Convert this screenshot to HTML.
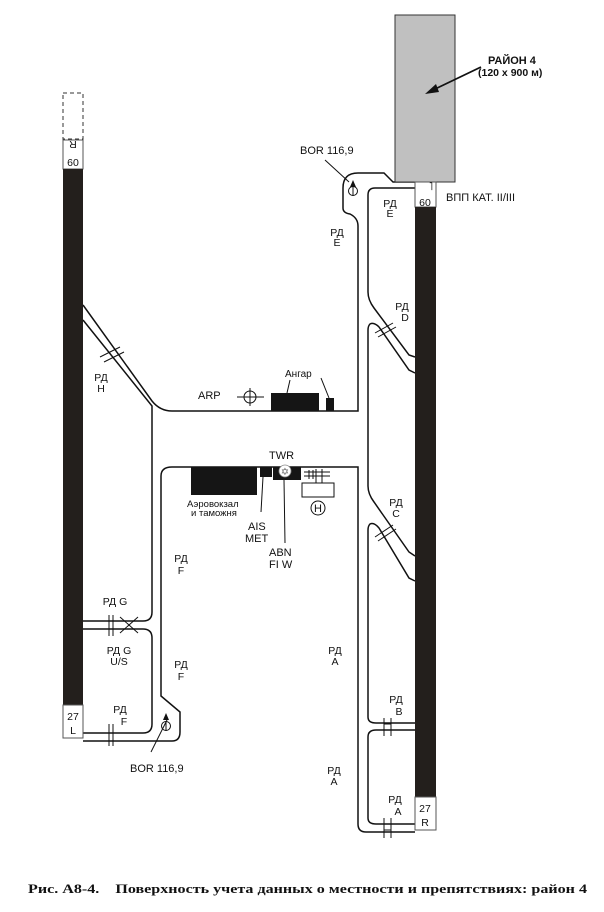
<!DOCTYPE html>
<html><head><meta charset="utf-8"><style>
html,body{margin:0;padding:0;background:#fff;}
svg{display:block;}
text{font-family:"Liberation Sans",sans-serif;fill:#111;}
</style></head><body>
<svg width="604" height="912" viewBox="0 0 604 912" xmlns="http://www.w3.org/2000/svg">
<g fill="none" stroke="#111" stroke-width="1.5">
<path d="M415,182 H393 L384,173 H358 Q343,173 343,188 V208 Q343,213 350,214 Q358,218 358,226 V411 H172 Q160,411 152,401 L83,305"/>
<path d="M83,320 L152,406 V612 Q152,621 143,621 H83"/>
<path d="M83,629 H143 Q152,629 152,638 V724 Q152,733 143,733 H83"/>
<path d="M83,741 H172 Q180,741 180,732 V712 L161,696 V476 Q161,467 172,467 H358 V824 Q358,832 366,832 H415"/>
<path d="M415,188 H375 Q368,188 368,195 V292 Q368,300 374,308 L409,355 L415,357"/>
<path d="M415,373 L409,370 L379,327 Q374,322 370,324 Q368,326 368,330 V486 Q368,494 374,502 L409,552 L415,556"/>
<path d="M415,581 L409,578 L379,528 Q374,522 370,524 Q368,526 368,530 V717 Q368,723 376,723 H415"/>
<path d="M415,730 H376 Q368,730 368,737 V818 Q368,824 376,824 H415"/>
</g>
<rect x="395" y="15" width="60" height="167" fill="#c0c0c0" stroke="#333" stroke-width="1"/>
<rect x="415" y="182" width="21" height="25" fill="#fff" stroke="#555" stroke-width="1"/>
<rect x="415" y="207" width="21" height="590" fill="#231f1c"/>
<rect x="415" y="797" width="21" height="33" fill="#fff" stroke="#555" stroke-width="1"/>
<rect x="63" y="93" width="20" height="46" fill="none" stroke="#333" stroke-width="1" stroke-dasharray="4,3"/>
<rect x="63" y="140" width="20" height="29" fill="#fff" stroke="#555" stroke-width="1"/>
<rect x="63" y="169" width="20" height="536" fill="#231f1c"/>
<rect x="63" y="705" width="20" height="33" fill="#fff" stroke="#555" stroke-width="1"/>
<line x1="481" y1="67" x2="433" y2="90" stroke="#111" stroke-width="1.8"/>
<polygon points="425,94 436,84 439,92" fill="#111"/>
<g fill="#151515">
<rect x="271" y="393" width="48" height="18"/>
<rect x="326" y="398" width="8" height="13"/>
<rect x="191" y="467" width="66" height="28"/>
<rect x="260" y="467" width="12" height="10"/>
<rect x="273" y="467" width="28" height="13"/>
</g>
<circle cx="285" cy="471" r="6" fill="#fff" stroke="#888" stroke-width="0.8"/>
<text x="285" y="475" font-size="10" text-anchor="middle" style="fill:#666">✡</text>
<g stroke="#111" stroke-width="1" fill="none">
<circle cx="250" cy="397" r="6"/><line x1="237" y1="397" x2="264" y2="397"/><line x1="250" y1="388" x2="250" y2="406"/>
<line x1="290" y1="380" x2="287" y2="393"/><line x1="321" y1="378" x2="329" y2="398"/>
<line x1="263" y1="477" x2="261" y2="512"/><line x1="284" y1="480" x2="285" y2="543"/>
<line x1="325" y1="160" x2="349" y2="182"/><line x1="167" y1="720" x2="151" y2="752"/>
<path d="M302,483 H334 V497 H302 Z"/><line x1="316" y1="469" x2="316" y2="483"/><line x1="322" y1="469" x2="322" y2="483"/>
<line x1="304" y1="472" x2="330" y2="472"/><line x1="304" y1="476" x2="330" y2="476"/>
<line x1="309" y1="470" x2="309" y2="479"/><line x1="313" y1="470" x2="313" y2="479"/>
<circle cx="318" cy="508" r="7"/>
<circle cx="353" cy="191" r="4.5"/><line x1="353" y1="186" x2="353" y2="196"/>
<circle cx="166" cy="726" r="4.5"/><line x1="166" y1="721" x2="166" y2="731"/>
<line x1="100" y1="357" x2="120" y2="347"/><line x1="104" y1="362" x2="124" y2="352"/>
<line x1="375" y1="333" x2="393" y2="323"/><line x1="378" y1="337" x2="396" y2="327"/>
<line x1="375" y1="537" x2="393" y2="525"/><line x1="378" y1="541" x2="396" y2="529"/>
<line x1="109" y1="615" x2="109" y2="636"/><line x1="113" y1="615" x2="113" y2="636"/>
<line x1="120" y1="617" x2="138" y2="633"/><line x1="120" y1="633" x2="138" y2="617"/>
<line x1="109" y1="724" x2="109" y2="746"/><line x1="113" y1="724" x2="113" y2="746"/>
<line x1="384" y1="718" x2="384" y2="736"/><line x1="391" y1="718" x2="391" y2="736"/>
<line x1="384" y1="724" x2="391" y2="724"/><line x1="384" y1="730" x2="391" y2="730"/>
<line x1="384" y1="818" x2="384" y2="838"/><line x1="391" y1="818" x2="391" y2="838"/>
<line x1="384" y1="824" x2="391" y2="824"/><line x1="384" y1="830" x2="391" y2="830"/>
</g>
<polygon points="353,180 350,187 356,187" fill="#111"/>
<polygon points="166,713 163,720 169,720" fill="#111"/>
<text x="318" y="512" font-size="11" text-anchor="middle">H</text>
<g font-size="11">
<text x="488" y="64" font-weight="bold" font-size="11">РАЙОН 4</text>
<text x="478" y="76" font-weight="bold" font-size="10.5">(120 x 900 м)</text>
<text x="446" y="201">ВПП КАТ. II/III</text>
<text x="300" y="154">BOR 116,9</text>
<text x="130" y="772">BOR 116,9</text>
<text x="285" y="377" font-size="10">Ангар</text>
<text x="198" y="399">ARP</text>
<text x="269" y="459">TWR</text>
<text x="187" y="507" font-size="9.5">Аэровокзал</text>
<text x="191" y="516" font-size="9.5">и таможня</text>
<text x="248" y="530">AIS</text><text x="245" y="542">MET</text>
<text x="269" y="556">ABN</text><text x="269" y="568">FI W</text>
<text x="431" y="190" font-size="11" text-anchor="middle">˥</text>
<text x="425" y="206" font-size="10.5" text-anchor="middle">60</text>
<text x="425" y="812" font-size="10.5" text-anchor="middle">27</text>
<text x="425" y="826" font-size="10.5" text-anchor="middle">R</text>
<text x="73" y="166" font-size="10.5" text-anchor="middle">60</text>
<text x="73" y="149" font-size="10.5" text-anchor="middle" transform="rotate(180 73 145)">R</text>
<text x="73" y="720" font-size="10.5" text-anchor="middle">27</text>
<text x="73" y="734" font-size="10.5" text-anchor="middle">L</text>
</g>
<g font-size="10.5" text-anchor="middle">
<text x="337" y="236">РД</text><text x="337" y="246">E</text>
<text x="390" y="207">РД</text><text x="390" y="217">E</text>
<text x="402" y="310">РД</text><text x="405" y="321">D</text>
<text x="396" y="506">РД</text><text x="396" y="517">C</text>
<text x="101" y="381">РД</text><text x="101" y="392">H</text>
<text x="181" y="562">РД</text><text x="181" y="574">F</text>
<text x="181" y="668">РД</text><text x="181" y="680">F</text>
<text x="115" y="605">РД G</text>
<text x="119" y="654">РД G</text><text x="119" y="665">U/S</text>
<text x="120" y="713">РД</text><text x="124" y="725">F</text>
<text x="335" y="654">РД</text><text x="335" y="665">A</text>
<text x="334" y="774">РД</text><text x="334" y="785">A</text>
<text x="396" y="703">РД</text><text x="399" y="715">B</text>
<text x="395" y="803">РД</text><text x="398" y="815">A</text>
</g>
<text x="28" y="893" font-weight="bold" font-size="13" textLength="559" lengthAdjust="spacingAndGlyphs" xml:space="preserve" style="font-family:'Liberation Serif',serif">Рис. А8-4.    Поверхность учета данных о местности и препятствиях: район 4</text>
</svg>
</body></html>
